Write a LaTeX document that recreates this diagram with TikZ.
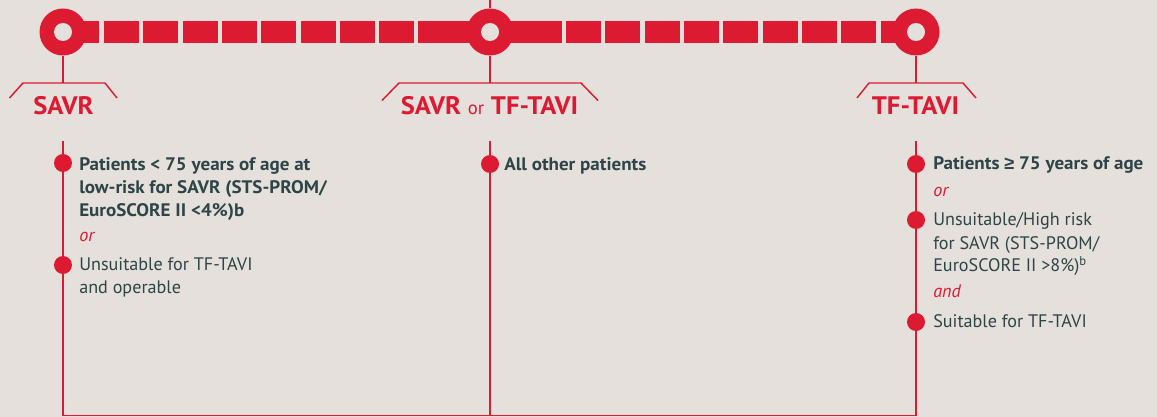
\documentclass[tikz,border=0pt]{standalone}
\usepackage{fontspec}
\setmainfont{PT Sans}[BoldFeatures={FakeStretch=1.05},BoldItalicFeatures={FakeStretch=1.05}]
\newfontfamily\symfont{Liberation Sans}
\definecolor{bg}{HTML}{E5E0DC}
\definecolor{rd}{HTML}{DC1A32}
\definecolor{tx}{HTML}{2E4446}
\begin{document}
\begin{tikzpicture}[x=0.75pt,y=-0.75pt,
  ln/.style={draw=rd,line width=1.4pt},
  hd/.style={text=rd,font=\fontsize{19}{22}\selectfont\bfseries,inner sep=0pt,anchor=base},
  bb/.style={text=tx,font=\fontsize{13.6}{16}\selectfont\bfseries,inner sep=0pt,anchor=base west},
  br/.style={text=tx,font=\fontsize{13.6}{16}\selectfont,inner sep=0pt,anchor=base west},
  conj/.style={text=rd,font=\fontsize{13.6}{16}\selectfont\itshape,inner sep=0pt,anchor=base west},
  dot/.style={circle,fill=rd,inner sep=0pt,minimum size=13.5pt},
  hub/.style={circle,fill=rd,inner sep=0pt,minimum size=35.25pt}]
\fill[bg] (0,0) rectangle (1157,417);
\useasboundingbox (0,0) rectangle (1157,417);
% dashed bar
\fill[rd] (63,21) rectangle (99,43);
\foreach \i in {0,...,7} \fill[rd] ({104+39.3*\i},21) rectangle ({139+39.3*\i},43);
\fill[rd] (418.4,21) rectangle (562,43);
\foreach \i in {0,...,7} \fill[rd] ({566+39.35*\i},21) rectangle ({601+39.35*\i},43);
\fill[rd] (881,21) rectangle (916,43);
% hubs
\node[hub] (c1) at (63,32) {};
\node[hub] (c2) at (490,32) {};
\node[hub] (c3) at (916,32) {};
\foreach \c in {c1,c2,c3} \fill[bg] (\c) circle (9);
\coordinate (top) at (490,0);
\draw[ln,line width=1.1pt] (top) -- (c2.north);
% brackets
\coordinate (b1) at (63,83);
\coordinate (b2) at (490,83);
\coordinate (b3) at (916,83);
\draw[ln,line width=1.1pt] (c1.south) -- (b1);
\draw[ln,line width=1.1pt] (c2.south) -- (b2);
\draw[ln,line width=1.1pt] (c3.south) -- (b3);
\draw[ln,line width=1.1pt] (9.5,98) -- (23,83) -- (105,83) -- (117,98);
\draw[ln,line width=1.1pt] (382,100.5) -- (399,83) -- (581,83) -- (598,100.5);
\draw[ln,line width=1.1pt] (857,98) -- (869,83) -- (963,83) -- (976,98);
% headers
\node[hd] (h1) at (63.5,115) {SAVR};
\node[hd] (h2) at (489.5,115) {SAVR {\fontsize{14}{16}\selectfont\mdseries or} TF-TAVI};
\node[hd] (h3) at (915.5,115) {TF-TAVI};
% vertical lines
\coordinate (v1) at (63,141);
\coordinate (v2) at (490,141);
\coordinate (v3) at (916,141);
\coordinate (e1) at (63,415.5);
\coordinate (e2) at (490,415.5);
\coordinate (e3) at (916,415.5);
\draw[ln] (v1) -- (e1) -- (e3) -- (v3);
\draw[ln,line width=1.1pt] (v2) -- (e2);
% bullets
\node[dot] (d1) at (63,163) {};
\node[dot] (d2) at (63,265) {};
\node[dot] (d3) at (490,164) {};
\node[dot] (d4) at (916,164) {};
\node[dot] (d5) at (916,220) {};
\node[dot] (d6) at (916,322) {};
% left text
\node[bb] (t1) at (79,171) {Patients < 75 years of age at};
\node[bb] (t2) at (79,194) {low-risk for SAVR (STS-PROM/};
\node[bb] (t3) at (79,216.5) {EuroSCORE II <4\%)b};
\node[conj] (t4) at (79,242) {or};
\node[br] (t5) at (79,271) {Unsuitable for TF-TAVI};
\node[br] (t6) at (79,293.5) {and operable};
% middle text
\node[bb] (m1) at (504,171) {All other patients};
% right text
\node[bb] (r1) at (933,169.5) {Patients {\symfont\bfseries ≥} 75 years of age};
\node[conj] (r2) at (933,197) {or};
\node[br] (r3) at (933,226) {Unsuitable/High risk};
\node[br] (r4) at (933,249) {for SAVR (STS-PROM/};
\node[br] (r5) at (933,272) {EuroSCORE II >8\%)\textsuperscript{b}};
\node[conj] (r6) at (933,297) {and};
\node[br] (r7) at (933,327) {Suitable for TF-TAVI};
\end{tikzpicture}
\end{document}
